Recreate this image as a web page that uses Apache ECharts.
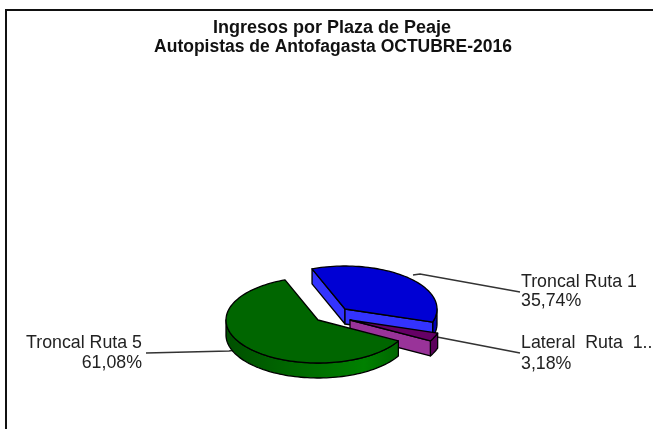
<!DOCTYPE html>
<html>
<head>
<meta charset="utf-8">
<style>
  html, body { margin: 0; padding: 0; background: #fff; }
  #chart { width: 653px; height: 429px; }
</style>
<script src="https://cdn.jsdelivr.net/npm/echarts@6/dist/echarts.min.js"></script>
</head>
<body>
<div id="chart"></div>
<script>
  // datos
  var categories = ['Troncal Ruta 1', 'Lateral  Ruta  1..', 'Troncal Ruta 5'];
  var values = [35.74, 3.18, 61.08];

  var titleLines = ['Ingresos por Plaza de Peaje', 'Autopistas de Antofagasta OCTUBRE-2016'];

  // geometria del pastel
  var startAngle = -111;
  var rx = 92, ry = 43, depth = 15;
  var centers = [[345, 309], [350, 320], [318, 320]];
  var topColors = ['#0000d4', '#660066', '#006600'];
  var cutColors = ['#3333ff', '#993399', '#006600'];
  var wallColors = ['#0000b4', '#5c005c', null];

  var labelFont = '17.8px "Liberation Sans", Arial, sans-serif';
  var labelPos = [
    { x: 521, y: 282, gap: 19.5, align: 'left', line: [[413, 275], [420, 274], [520, 292]] },
    { x: 521, y: 343, gap: 21, align: 'left', line: [[437, 337], [520, 353]] },
    { x: 142, y: 343, gap: 20, align: 'right', line: [[247, 348], [229, 351], [146, 353]] }
  ];

  var total = values.reduce(function (a, b) { return a + b; }, 0);

  function pt(c, deg, dy) {
    var r = deg * Math.PI / 180;
    return [c[0] + rx * Math.cos(r), c[1] + ry * Math.sin(r) + (dy || 0)];
  }

  function arc(c, a0, a1, dy) {
    var pts = [];
    var n = Math.max(2, Math.ceil(Math.abs(a1 - a0) / 2));
    for (var i = 0; i <= n; i++) pts.push(pt(c, a0 + (a1 - a0) * i / n, dy));
    return pts;
  }

  function poly(points, fill) {
    return {
      type: 'polygon',
      shape: { points: points },
      style: { fill: fill, stroke: '#000', lineWidth: 1.3, lineJoin: 'round' }
    };
  }

  function greenWall() {
    return new echarts.graphic.LinearGradient(0, 0, 1, 0, [
      { offset: 0, color: '#004f00' },
      { offset: 0.35, color: '#006600' },
      { offset: 0.8, color: '#008000' },
      { offset: 1, color: '#006600' }
    ]);
  }

  function renderSlice(params, api) {
    var i = params.dataIndex;
    var before = 0;
    for (var k = 0; k < i; k++) before += values[k];
    var a0 = startAngle + before / total * 360;
    var a1 = a0 + api.value(0) / total * 360;
    var c = centers[i];
    var kids = [];

    // pared exterior, solo la parte que mira al frente
    var w0 = a0, w1 = a1;
    if (a0 < 0 && a1 > 0) w0 = 0;
    if (w1 > 180) w1 = 180;
    if (w1 > w0 && w0 >= 0) {
      var wall = arc(c, w0, w1, 0).concat(arc(c, w1, w0, depth));
      kids.push(poly(wall, wallColors[i] || greenWall()));
    }

    // caras de corte
    var cApex = [c[0], c[1] + depth];
    if (Math.cos(a0 * Math.PI / 180) < 0) {
      kids.push(poly([c, pt(c, a0), pt(c, a0, depth), cApex], cutColors[i]));
    }
    if (Math.cos(a1 * Math.PI / 180) > 0) {
      kids.push(poly([c, pt(c, a1), pt(c, a1, depth), cApex], cutColors[i]));
    }

    // tapa
    kids.push(poly([c].concat(arc(c, a0, a1, 0)), topColors[i]));

    return { type: 'group', children: kids };
  }

  function renderLabel(params, api) {
    var i = params.dataIndex;
    var p = labelPos[i];
    var pct = api.value(0).toFixed(2).replace('.', ',') + '%';
    return {
      type: 'group',
      children: [
        {
          type: 'polyline',
          shape: { points: p.line },
          style: { fill: null, stroke: '#333', lineWidth: 1.5 }
        },
        {
          type: 'text',
          style: { x: p.x, y: p.y, text: categories[i], font: labelFont, fill: '#222', textAlign: p.align, textVerticalAlign: 'middle' }
        },
        {
          type: 'text',
          style: { x: p.x, y: p.y + p.gap, text: pct, font: labelFont, fill: '#222', textAlign: p.align, textVerticalAlign: 'middle' }
        }
      ]
    };
  }

  var chart = echarts.init(document.getElementById('chart'), null, { renderer: 'canvas' });

  chart.setOption({
    animation: false,
    backgroundColor: '#fff',
    title: [
      {
        text: titleLines[0],
        left: 327, top: 14, textAlign: 'center',
        textStyle: { fontFamily: '"Liberation Sans", Arial, sans-serif', fontWeight: 'bold', fontSize: 18, color: '#111' }
      },
      {
        text: titleLines[1],
        left: 328, top: 33, textAlign: 'center',
        textStyle: { fontFamily: '"Liberation Sans", Arial, sans-serif', fontWeight: 'bold', fontSize: 17.5, color: '#111' }
      }
    ],
    graphic: [
      {
        type: 'polyline',
        shape: { points: [[6, 429], [6, 10], [653, 10]] },
        style: { fill: null, stroke: '#111', lineWidth: 2 }
      }
    ],
    series: [
      { type: 'custom', coordinateSystem: 'none', silent: true, z: 1, data: values.map(function (v) { return [v]; }), renderItem: renderLabel },
      { type: 'custom', coordinateSystem: 'none', silent: true, z: 2, data: values.map(function (v) { return [v]; }), renderItem: renderSlice }
    ]
  });
</script>
</body>
</html>
